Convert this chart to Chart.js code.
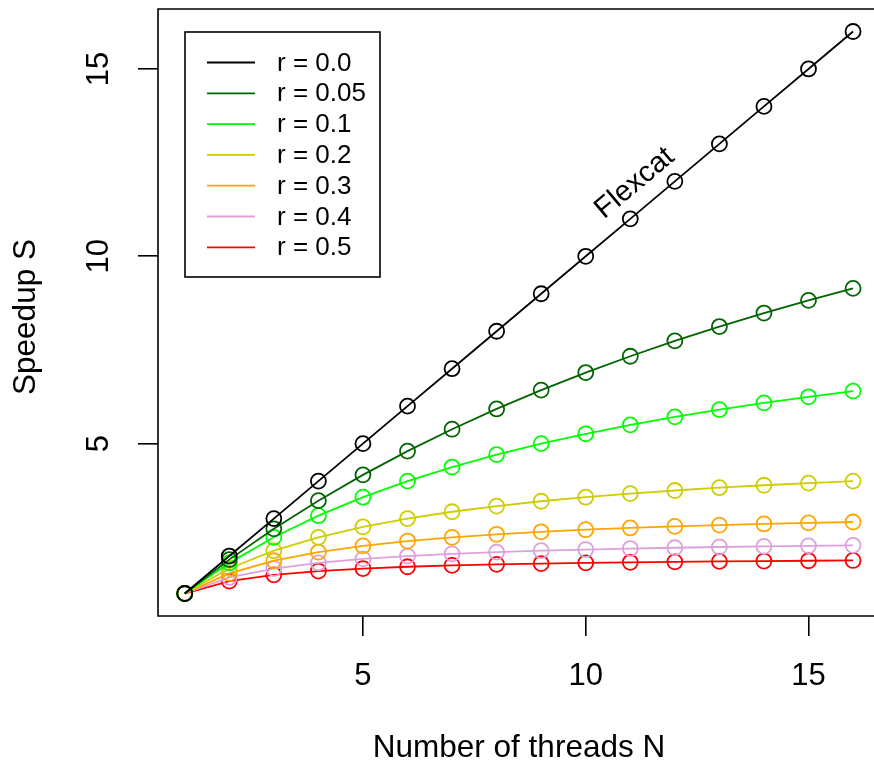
<!DOCTYPE html>
<html>
<head>
<meta charset="utf-8">
<script src="https://cdn.jsdelivr.net/npm/chart.js@4.4.0/dist/chart.umd.min.js"></script>
<style>
  html, body { margin: 0; padding: 0; background: #fff; }
  #wrap { width: 874px; height: 764px; }
</style>
</head>
<body>
<div id="wrap"><canvas id="speedup"></canvas></div>
<script>
'use strict';

// Data
// --------------------------------------------------------------------
const threads = [1, 2, 3, 4, 5, 6, 7, 8, 9, 10, 11, 12, 13, 14, 15, 16];
const seriesLabels = ['r = 0.0', 'r = 0.05', 'r = 0.1', 'r = 0.2', 'r = 0.3', 'r = 0.4', 'r = 0.5'];
const seriesColors = ['#000000', '#006400', '#00FF00', '#CDCD00', '#FFA500', '#DDA0DD', '#FF0000'];
const speedR00 = [1, 2, 3, 4, 5, 6, 7, 8, 9, 10, 11, 12, 13, 14, 15, 16];
const speedR005 = [1, 1.905, 2.727, 3.478, 4.167, 4.8, 5.385, 5.926, 6.429, 6.897, 7.333, 7.742, 8.125, 8.485, 8.824, 9.143];
const speedR01 = [1, 1.818, 2.5, 3.077, 3.571, 4, 4.375, 4.706, 5, 5.263, 5.5, 5.714, 5.909, 6.087, 6.25, 6.4];
const speedR02 = [1, 1.667, 2.143, 2.5, 2.778, 3, 3.182, 3.333, 3.462, 3.571, 3.667, 3.75, 3.824, 3.889, 3.947, 4];
const speedR03 = [1, 1.538, 1.875, 2.105, 2.273, 2.4, 2.5, 2.581, 2.647, 2.703, 2.75, 2.791, 2.826, 2.857, 2.885, 2.909];
const speedR04 = [1, 1.429, 1.667, 1.818, 1.923, 2, 2.059, 2.105, 2.143, 2.174, 2.2, 2.222, 2.241, 2.258, 2.273, 2.286];
const speedR05 = [1, 1.333, 1.5, 1.6, 1.667, 1.714, 1.75, 1.778, 1.8, 1.818, 1.833, 1.846, 1.857, 1.867, 1.875, 1.882];
const allSeries = [speedR00, speedR005, speedR01, speedR02, speedR03, speedR04, speedR05];
const xTicks = [5, 10, 15];
const yTicks = [5, 10, 15];
const annotation = { text: 'Flexcat', x: 11.1, y: 11.95 };

const fontFamily = '"Liberation Sans", Arial, Helvetica, sans-serif';

// Plugin: box, tick labels, axis titles, legend, annotation
// --------------------------------------------------------------------
const rStylePlugin = {
  id: 'rStyle',
  afterDraw(chart) {
    const ctx = chart.ctx;
    const area = chart.chartArea;
    const xs = chart.scales.x;
    const ys = chart.scales.y;
    ctx.save();

    // plot box (right side falls outside the canvas)
    ctx.strokeStyle = '#000';
    ctx.lineWidth = 1.6;
    ctx.beginPath();
    ctx.moveTo(area.right + 10, area.top);
    ctx.lineTo(area.left, area.top);
    ctx.lineTo(area.left, area.bottom);
    ctx.lineTo(area.right + 10, area.bottom);
    ctx.stroke();

    // tick labels
    ctx.fillStyle = '#000';
    ctx.font = '31px ' + fontFamily;
    ctx.textAlign = 'center';
    ctx.textBaseline = 'middle';
    xTicks.forEach(function (t) {
      ctx.fillText(String(t), xs.getPixelForValue(t), 676);
    });
    yTicks.forEach(function (t) {
      ctx.save();
      ctx.translate(99, ys.getPixelForValue(t));
      ctx.rotate(-Math.PI / 2);
      ctx.fillText(String(t), 0, 0);
      ctx.restore();
    });

    // axis titles
    ctx.font = '31.5px ' + fontFamily;
    ctx.fillText('Number of threads N', 519, 748);
    ctx.save();
    ctx.translate(26, 317);
    ctx.rotate(-Math.PI / 2);
    ctx.fillText('Speedup S', 0, 0);
    ctx.restore();

    // annotation
    ctx.save();
    ctx.font = '29px ' + fontFamily;
    ctx.translate(xs.getPixelForValue(annotation.x), ys.getPixelForValue(annotation.y));
    ctx.rotate(-40 * Math.PI / 180);
    ctx.fillText(annotation.text, 0, 0);
    ctx.restore();

    // legend
    ctx.lineWidth = 1.6;
    ctx.strokeStyle = '#000';
    ctx.strokeRect(185, 32, 195, 245);
    ctx.font = '26px ' + fontFamily;
    ctx.textAlign = 'left';
    seriesLabels.forEach(function (label, i) {
      const y = 62.5 + i * 30.8;
      ctx.strokeStyle = seriesColors[i];
      ctx.lineWidth = 1.8;
      ctx.beginPath();
      ctx.moveTo(207, y);
      ctx.lineTo(255, y);
      ctx.stroke();
      ctx.fillStyle = '#000';
      ctx.fillText(label, 277, y + 1);
    });

    ctx.restore();
  }
};

// Line Chart
// --------------------------------------------------------------------
const speedupCanvas = document.getElementById('speedup');
if (speedupCanvas) {
  const speedupChart = new Chart(speedupCanvas, {
    type: 'line',
    data: {
      datasets: allSeries.map(function (values, i) {
        return {
          label: seriesLabels[i],
          data: threads.map(function (n, j) {
            return { x: n, y: values[j] };
          }),
          borderColor: seriesColors[i],
          borderWidth: 1.8,
          pointRadius: 7.5,
          pointHoverRadius: 7.5,
          pointBorderWidth: 1.8,
          pointBorderColor: seriesColors[i],
          pointBackgroundColor: 'rgba(0,0,0,0)',
          tension: 0,
          fill: false,
          clip: false
        };
      })
    },
    options: {
      responsive: true,
      maintainAspectRatio: false,
      animation: false,
      events: [],
      layout: {
        autoPadding: false,
        padding: { top: 9, left: 0, right: 0, bottom: 0 }
      },
      plugins: {
        legend: { display: false },
        tooltip: { enabled: false }
      },
      scales: {
        x: {
          type: 'linear',
          min: 0.4,
          max: 16.47,
          afterBuildTicks: function (scale) {
            scale.ticks = xTicks.map(function (v) { return { value: v }; });
          },
          afterFit: function (scale) {
            scale.height = 148;
          },
          ticks: { display: false },
          grid: {
            drawOnChartArea: false,
            drawTicks: true,
            tickLength: 20,
            color: '#000',
            lineWidth: 1.6
          },
          border: { display: false }
        },
        y: {
          type: 'linear',
          min: 0.4,
          max: 16.6,
          afterBuildTicks: function (scale) {
            scale.ticks = yTicks.map(function (v) { return { value: v }; });
          },
          afterFit: function (scale) {
            scale.width = 158;
          },
          ticks: { display: false },
          grid: {
            drawOnChartArea: false,
            drawTicks: true,
            tickLength: 20,
            color: '#000',
            lineWidth: 1.6
          },
          border: { display: false }
        }
      }
    },
    plugins: [rStylePlugin]
  });
}
</script>
</body>
</html>
